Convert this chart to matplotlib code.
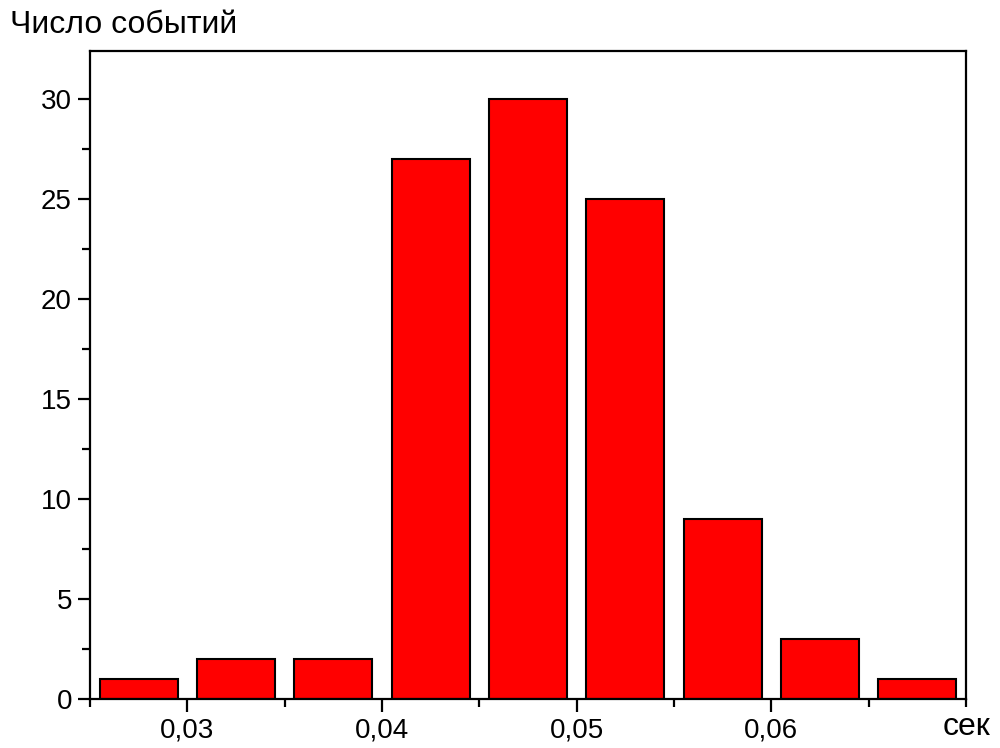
import matplotlib.pyplot as plt
from matplotlib.ticker import FixedLocator, MultipleLocator

plt.rcParams["font.family"] = ["Liberation Sans", "DejaVu Sans"]

# bin centres (seconds) and counts
bin_centers = [0.0275, 0.0325, 0.0375, 0.0425, 0.0475, 0.0525, 0.0575, 0.0625, 0.0675]
counts = [1, 2, 2, 27, 30, 25, 9, 3, 1]

x_ticks = [0.03, 0.04, 0.05, 0.06]
x_tick_labels = ["0,03", "0,04", "0,05", "0,06"]
y_ticks = [0, 5, 10, 15, 20, 25, 30]

fig = plt.figure(figsize=(10, 7.48), dpi=100)
ax = fig.add_axes([0.09, 0.0655, 0.876, 0.8663])

ax.bar(bin_centers, counts, width=0.004, color="#ff0000",
       edgecolor="black", linewidth=1.5, zorder=2)

ax.set_xlim(0.025, 0.07)
ax.set_ylim(0, 32.4)

ax.xaxis.set_major_locator(FixedLocator(x_ticks))
ax.set_xticklabels(x_tick_labels)
ax.xaxis.set_minor_locator(MultipleLocator(0.005))
ax.set_yticks(y_ticks)
ax.yaxis.set_minor_locator(MultipleLocator(2.5))

for side in ax.spines:
    ax.spines[side].set_linewidth(1.6)

ax.tick_params(which="major", direction="out", length=9, width=1.6,
               labelsize=20, top=False, right=False, pad=4)
ax.tick_params(which="minor", direction="out", length=5.5, width=1.6,
               top=False, right=False)

fig.text(0.01, 0.966, "Число событий", fontsize=23, ha="left", va="center")
fig.text(0.99, 0.028, "сек", fontsize=23, ha="right", va="center")

fig.savefig("out.png", dpi=100)
